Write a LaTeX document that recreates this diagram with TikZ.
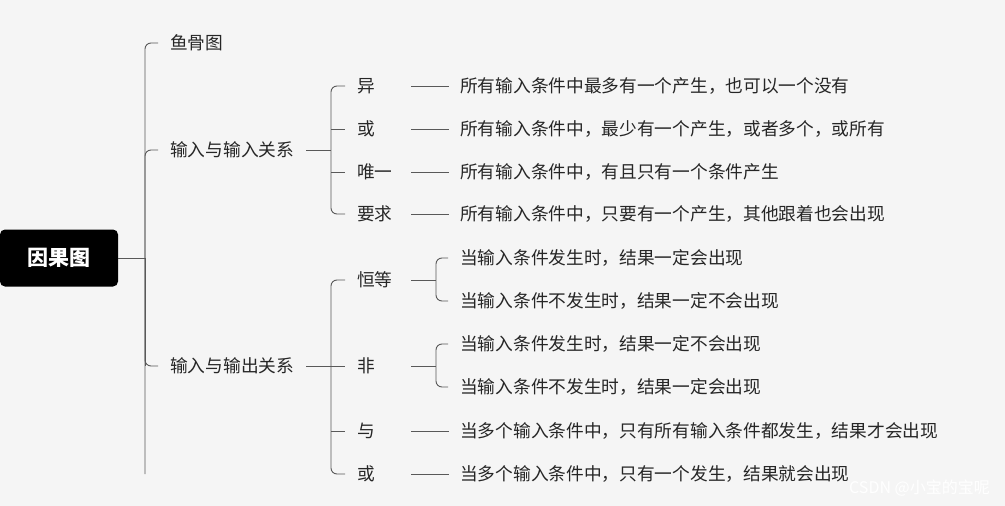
\documentclass[tikz,border=0pt]{standalone}
\usepackage{fontspec}
\setmainfont{Noto Sans CJK SC}
\begin{document}
\begin{tikzpicture}[x=1pt,y=-1pt,
  t/.style={anchor=west,inner sep=0pt,font=\fontsize{17.7}{18}\selectfont,text=black!85},
  ln/.style={draw=black!65,line width=0.9pt,rounded corners=6pt}]
\fill[black!4] (0,0) rectangle (1005,506);
\useasboundingbox (0,0) rectangle (1005,506);
\node[fill=black,rounded corners=5pt,minimum width=118pt,minimum height=57pt,inner sep=0pt,text=white,font=\fontsize{21}{22}\bfseries\selectfont] (root) at (59,258) {因果图};
% level 1
\node[t] (a) at (170,43) {鱼骨图};
\node[t] (b) at (170,150) {输入与输入关系};
\node[t] (c) at (170,366) {输入与输出关系};
\draw[ln] (root.east) -- (145,258);
\draw[ln] ([xshift=-12pt]a.west) -- (145,43) -- (145,474);
\draw[ln] ([xshift=-12pt]c.west) -- (145,366) -- (145,258);
\draw[ln] ([xshift=-12pt]b.west) -- (145,150) -- (145,258);
\draw[ln] (145,258) -- (145,366);
% input-input
\node[t] (b1) at (357,86) {异};
\node[t] (b2) at (357,129) {或};
\node[t] (b3) at (357,172) {唯一};
\node[t] (b4) at (357,214) {要求};
\draw[ln] (306,150) -- (331,150);
\draw[ln] ([xshift=-12pt]b1.west) -- (331,86) -- (331,214) -- ([xshift=-12pt]b4.west);
\draw[ln] (331,129) -- ([xshift=-12pt]b2.west);
\draw[ln] (331,172) -- ([xshift=-12pt]b3.west);
\node[t] (b1d) at (460,86) {所有输入条件中最多有一个产生，也可以一个没有};
\node[t] (b2d) at (460,129) {所有输入条件中，最少有一个产生，或者多个，或所有};
\node[t] (b3d) at (460,172) {所有输入条件中，有且只有一个条件产生};
\node[t] (b4d) at (460,214) {所有输入条件中，只要有一个产生，其他跟着也会出现};
\foreach \y in {86,129,172,214} \draw[ln] (411,\y) -- (449,\y);
% input-output
\node[t] (c1) at (357,280) {恒等};
\node[t] (c2) at (357,366) {非};
\node[t] (c3) at (357,431) {与};
\node[t] (c4) at (357,474) {或};
\draw[ln] (306,366) -- (331,366);
\draw[ln] ([xshift=-12pt]c1.west) -- (331,280) -- (331,474) -- ([xshift=-12pt]c4.west);
\draw[ln] (331,366) -- ([xshift=-12pt]c2.west);
\draw[ln] (331,431) -- ([xshift=-12pt]c3.west);
\node[t] (c1a) at (460,258) {当输入条件发生时，结果一定会出现};
\node[t] (c1b) at (460,301) {当输入条件不发生时，结果一定不会出现};
\node[t] (c2a) at (460,344) {当输入条件发生时，结果一定不会出现};
\node[t] (c2b) at (460,387) {当输入条件不发生时，结果一定会出现};
\node[t] (c3d) at (460,431) {当多个输入条件中，只有所有输入条件都发生，结果才会出现};
\node[t] (c4d) at (460,474) {当多个输入条件中，只有一个发生，结果就会出现};
\draw[ln] (411,280) -- (436,280);
\draw[ln] ([xshift=-12pt]c1a.west) -- (436,258) -- (436,301) -- ([xshift=-12pt]c1b.west);
\draw[ln] (411,366) -- (436,366);
\draw[ln] ([xshift=-12pt]c2a.west) -- (436,344) -- (436,387) -- ([xshift=-12pt]c2b.west);
\draw[ln] (411,431) -- (449,431);
\draw[ln] (411,474) -- (449,474);
\node[anchor=east,inner sep=0pt,text=white,font=\fontsize{16}{17}\selectfont] (wm) at (990,488) {CSDN @小宝的宝呢};
\end{tikzpicture}
\end{document}
